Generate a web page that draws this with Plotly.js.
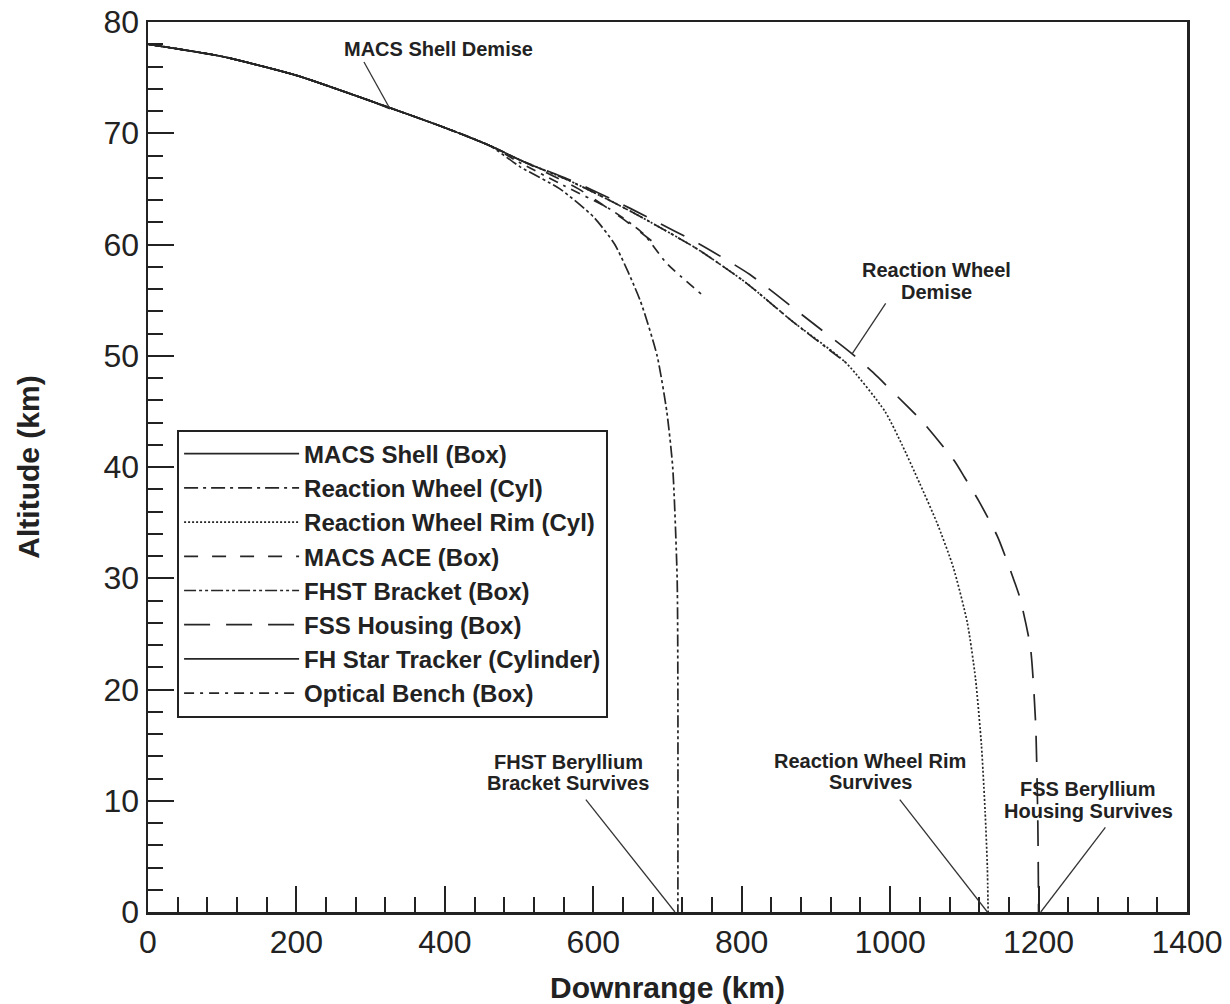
<!DOCTYPE html>
<html>
<head>
<meta charset="utf-8">
<script src="https://cdn.plot.ly/plotly-3.0.1.min.js"></script>
<style>
  html, body { margin: 0; padding: 0; background: #ffffff; }
  #chart { width: 1230px; height: 1004px; }
</style>
</head>
<body>
<div id="chart"></div>
<script>
// ---- Data (Downrange km, Altitude km) ----
const seriesNames = [
  "MACS Shell (Box)",
  "Reaction Wheel (Cyl)",
  "Reaction Wheel Rim (Cyl)",
  "MACS ACE (Box)",
  "FHST Bracket (Box)",
  "FSS Housing (Box)",
  "FH Star Tracker (Cylinder)",
  "Optical Bench (Box)"
];

const macsShellX = [0, 100, 200, 300, 326];
const macsShellY = [78, 76.9, 75.2, 72.9, 72.2];

const reactionWheelX = [0, 100, 200, 300, 400, 460, 501, 569, 627, 672, 740, 805, 870, 940];
const reactionWheelY = [78, 76.9, 75.2, 72.9, 70.5, 68.9, 67.6, 65.7, 63.8, 62.2, 59.6, 56.6, 53.0, 49.4];

const rimX = [0, 100, 200, 300, 400, 460, 501, 569, 627, 672, 740, 805, 870, 940, 993, 1016, 1040, 1063, 1085, 1104, 1115, 1123, 1128, 1131, 1132];
const rimY = [78, 76.9, 75.2, 72.9, 70.5, 68.9, 67.6, 65.7, 63.8, 62.2, 59.6, 56.6, 53.0, 49.4, 45.0, 42.0, 38.5, 35.0, 31.0, 26.0, 21.0, 15.0, 9.0, 4.0, 0];

const macsAceX = [0, 100, 200, 300, 400, 460, 520, 580, 640, 681];
const macsAceY = [78, 76.9, 75.2, 72.9, 70.5, 68.9, 67.0, 65.0, 62.3, 60.2];

const fhstBracketX = [0, 100, 200, 300, 400, 460, 501, 555, 600, 629, 663, 686, 699, 707, 713, 714, 714];
const fhstBracketY = [78, 76.9, 75.2, 72.9, 70.5, 68.9, 67.0, 65.0, 62.5, 60.0, 55.0, 50.0, 45.0, 40.0, 30.0, 20.0, 0];

const fssHousingX = [0, 100, 200, 300, 400, 460, 501, 569, 627, 672, 744, 811, 879, 950, 977, 1024, 1042, 1086, 1100, 1119, 1145, 1168, 1175, 1189, 1196, 1199, 1200];
const fssHousingY = [78, 76.9, 75.2, 72.9, 70.5, 68.9, 67.6, 65.8, 64.0, 62.5, 60.0, 57.3, 53.8, 50.1, 48.5, 45.4, 44.2, 40.6, 39.1, 37.0, 33.7, 29.6, 28.2, 23.8, 17.0, 8.0, 0];

const starTrackerX = [0, 100, 200, 300, 400, 460, 480];
const starTrackerY = [78, 76.9, 75.2, 72.9, 70.5, 68.9, 68.3];

const opticalBenchX = [0, 100, 200, 300, 400, 460, 500, 560, 622, 667, 699, 748];
const opticalBenchY = [78, 76.9, 75.2, 72.9, 70.5, 68.9, 67.4, 65.3, 63.2, 61.0, 58.3, 55.4];

const xTickVals = [0, 200, 400, 600, 800, 1000, 1200, 1400];
const yTickVals = [0, 10, 20, 30, 40, 50, 60, 70, 80];

const xs = [macsShellX, reactionWheelX, rimX, macsAceX, fhstBracketX, fssHousingX, starTrackerX, opticalBenchX];
const ys = [macsShellY, reactionWheelY, rimY, macsAceY, fhstBracketY, fssHousingY, starTrackerY, opticalBenchY];
const dashes = [
  "solid",
  "14px,5px,3px,5px",
  "2px,2px",
  "14px,14px",
  "12px,3px,3px,3px,3px,3px",
  "26px,16px",
  "solid",
  "10px,6px,3px,6px"
];

const lineColor = "#262626";
const traces = seriesNames.map((name, i) => ({
  type: "scatter",
  mode: "lines",
  name: name,
  x: xs[i],
  y: ys[i],
  line: { color: lineColor, width: 1.7, dash: dashes[i], shape: "spline", smoothing: 0.6 }
}));

// Annotation text lines (one entry per printed line)
const annTexts = [
  "MACS Shell Demise",
  "Reaction Wheel", "Demise",
  "FHST Beryllium", "Bracket Survives",
  "Reaction Wheel Rim", "Survives",
  "FSS Beryllium", "Housing Survives"
];
const annPos = [
  [392, 77.6],
  [1063, 57.7], [1063, 55.7],
  [566, 13.5], [566, 11.6],
  [973, 13.6], [973, 11.7],
  [1267, 11.05], [1267, 9.1]
];

const annFont = { family: "Liberation Sans, Arial, sans-serif", size: 20, color: "#222" };
const annotations = annTexts.map((t, i) => ({
  x: annPos[i][0], y: annPos[i][1], xref: "x", yref: "y",
  text: "<b>" + t + "</b>", showarrow: false, font: annFont,
  xanchor: "center", yanchor: "middle"
}));

const leader = (x0, y0, x1, y1) => ({ type: "line", xref: "x", yref: "y", x0, y0, x1, y1, line: { color: "#333", width: 1.3 } });
const shapes = [
  leader(291, 76.4, 326, 72.2),
  leader(994, 54.7, 949, 50.2),
  leader(590, 10.1, 710, 0),
  leader(1013, 10.1, 1131, 0),
  leader(1290, 7.6, 1203, 0)
];

const layout = {
  width: 1230,
  height: 1004,
  margin: { l: 148, r: 43, t: 22, b: 92 },
  paper_bgcolor: "#ffffff",
  plot_bgcolor: "#ffffff",
  font: { family: "Liberation Sans, Arial, sans-serif", color: "#222" },
  showlegend: true,
  legend: {
    x: 0.028, y: 0.542, xanchor: "left", yanchor: "top",
    bgcolor: "#ffffff", bordercolor: "#222", borderwidth: 2,
    font: { family: "Liberation Sans, Arial, sans-serif", size: 24, color: "#222", weight: "bold" },
    itemwidth: 115,
    traceorder: "normal"
  },
  xaxis: {
    range: [0, 1400],
    tickvals: xTickVals,
    ticks: "inside", ticklen: 26, tickwidth: 2, tickcolor: "#222",
    minor: { dtick: 40, ticks: "inside", ticklen: 15, tickwidth: 2, tickcolor: "#222", showgrid: false },
    showgrid: false, zeroline: false,
    showline: true, linecolor: "#222", linewidth: 2.5, mirror: true,
    tickfont: { size: 32, color: "#222" },
    title: { text: "<b>Downrange (km)</b>", font: { size: 30, color: "#222" }, standoff: 18 }
  },
  yaxis: {
    range: [0, 80],
    tickvals: yTickVals,
    ticks: "inside", ticklen: 26, tickwidth: 2, tickcolor: "#222",
    minor: { dtick: 2, ticks: "inside", ticklen: 15, tickwidth: 2, tickcolor: "#222", showgrid: false },
    showgrid: false, zeroline: false,
    showline: true, linecolor: "#222", linewidth: 2.5, mirror: true,
    tickfont: { size: 32, color: "#222" },
    title: { text: "<b>Altitude (km)</b>", font: { size: 30, color: "#222" }, standoff: 55 }
  },
  annotations: annotations,
  shapes: shapes
};

Plotly.newPlot("chart", traces, layout, { displayModeBar: false, staticPlot: true });
</script>
</body>
</html>
